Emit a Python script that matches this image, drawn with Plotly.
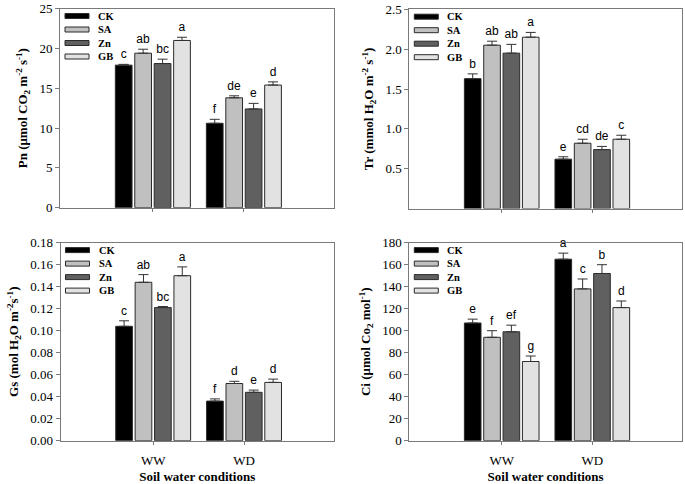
import plotly.graph_objects as go
from plotly.subplots import make_subplots

conditions = ["WW", "WD"]
treatments = ["CK", "SA", "Zn", "GB"]
colors = ["#000000", "#c0c0c0", "#606060", "#e2e2e2"]

# Pn
pn_mean = {"CK": [17.9, 10.6], "SA": [19.4, 13.8], "Zn": [18.1, 12.4], "GB": [21.0, 15.4]}
pn_err = {"CK": [0.1, 0.5], "SA": [0.5, 0.25], "Zn": [0.55, 0.7], "GB": [0.4, 0.4]}
pn_let = {"CK": ["c", "f"], "SA": ["ab", "de"], "Zn": ["bc", "e"], "GB": ["a", "d"]}
# Tr
tr_mean = {"CK": [1.63, 0.62], "SA": [2.05, 0.82], "Zn": [1.95, 0.74], "GB": [2.15, 0.87]}
tr_err = {"CK": [0.06, 0.03], "SA": [0.05, 0.05], "Zn": [0.11, 0.04], "GB": [0.06, 0.05]}
tr_let = {"CK": ["b", "e"], "SA": ["ab", "cd"], "Zn": ["ab", "de"], "GB": ["a", "c"]}
# Gs
gs_mean = {"CK": [0.104, 0.036], "SA": [0.144, 0.052], "Zn": [0.121, 0.044], "GB": [0.150, 0.053]}
gs_err = {"CK": [0.005, 0.002], "SA": [0.007, 0.002], "Zn": [0.001, 0.002], "GB": [0.008, 0.003]}
gs_let = {"CK": ["c", "f"], "SA": ["ab", "d"], "Zn": ["bc", "e"], "GB": ["a", "d"]}
# Ci
ci_mean = {"CK": [107, 165], "SA": [94, 138], "Zn": [99, 152], "GB": [72, 121]}
ci_err = {"CK": [3.5, 5.5], "SA": [6, 9], "Zn": [6, 8], "GB": [5, 6]}
ci_let = {"CK": ["e", "a"], "SA": ["f", "c"], "Zn": ["ef", "b"], "GB": ["g", "d"]}

y_titles = [
    "Pn (μmol CO<sub>2</sub> m<sup>-2</sup> s<sup>-1</sup>)",
    "Tr (mmol H<sub>2</sub>O m<sup>-2</sup> s<sup>-1</sup>)",
    "Gs (mol H<sub>2</sub>O m<sup>-2</sup>s<sup>-1</sup>)",
    "Ci (μmol Co<sub>2</sub> mol<sup>-1</sup>)",
]
x_title = "Soil water conditions"

SERIF = "Liberation Serif"
SANS = "Liberation Sans"
AX = "#7a7a7a"

OFF = 0
W, H = 685, 484
fig = make_subplots(rows=2, cols=2)

panels = [
    (1, 1, pn_mean, pn_err, pn_let),
    (1, 2, tr_mean, tr_err, tr_let),
    (2, 1, gs_mean, gs_err, gs_let),
    (2, 2, ci_mean, ci_err, ci_let),
]

for (r, c, mean, err, let) in panels:
    for i, t in enumerate(treatments):
        fig.add_trace(go.Bar(
            x=conditions, y=mean[t], name=t, offsetgroup=t,
            marker=dict(color=colors[i], line=dict(color="#2a2a2a", width=1)),
            error_y=dict(type="data", array=err[t], arrayminus=[0, 0], symmetric=False,
                         color="#333333", thickness=1, width=5),
            showlegend=False, hoverinfo="skip",
        ), row=r, col=c)
        fig.add_trace(go.Bar(
            x=conditions, y=[m + e for m, e in zip(mean[t], err[t])], offsetgroup=t,
            marker=dict(color="rgba(0,0,0,0)", line=dict(width=0)),
            text=let[t], textposition="outside", constraintext="none", cliponaxis=False,
            textfont=dict(family=SANS, size=12, color="#000000"),
            showlegend=False, hoverinfo="skip",
        ), row=r, col=c)

def px_x(a, b):
    return [(a - OFF) / W, (b - OFF) / W]

def px_y(top, bottom):
    return [1 - (bottom - OFF) / H, 1 - (top - OFF) / H]

doms = {
    1: (px_x(60, 334), px_y(8.6, 207.7)),
    2: (px_x(409.3, 682), px_y(9.3, 208.6)),
    3: (px_x(60.5, 334), px_y(242.7, 440.7)),
    4: (px_x(409.3, 682), px_y(242.7, 440.7)),
}
yranges = {1: [0, 25], 2: [0, 2.5], 3: [0, 0.18], 4: [0, 180]}
ytick = {
    1: dict(tickvals=[0, 5, 10, 15, 20, 25]),
    2: dict(tickvals=[0.5, 1.0, 1.5, 2.0, 2.5], ticktext=["0.5", "1.0", "1.5", "2.0", "2.5"]),
    3: dict(tickvals=[0, 0.02, 0.04, 0.06, 0.08, 0.10, 0.12, 0.14, 0.16, 0.18], tickformat=".2f"),
    4: dict(tickvals=list(range(0, 181, 20))),
}

for k in range(1, 5):
    xs = "xaxis" if k == 1 else f"xaxis{k}"
    ys = "yaxis" if k == 1 else f"yaxis{k}"
    bottom = k >= 3
    fig.layout[xs].update(
        domain=doms[k][0], range=[-1.02, 1.99], automargin=False,
        showline=True, linecolor=AX, linewidth=1,
        mirror=True, ticks="outside", ticklen=3, tickcolor=AX, showgrid=False, zeroline=False,
        showticklabels=bottom, ticklabelstandoff=5, ticklabeloverflow="allow",
        tickfont=dict(family=SERIF, size=13, color="#000"),
        title=dict(text=("<b>" + x_title + "</b>") if bottom else "",
                   font=dict(family=SERIF, size=13, color="#000"), standoff=4),
    )
    fig.layout[ys].update(
        domain=doms[k][1], range=yranges[k], automargin=False,
        showline=True, linecolor=AX, linewidth=1,
        mirror=True, ticks="outside", ticklen=4, tickcolor=AX, showgrid=False, zeroline=False,
        ticklabeloverflow="allow",
        tickfont=dict(family=SERIF, size=13, color="#000"),
        title=dict(text="<b>" + y_titles[k - 1] + "</b>",
                   font=dict(family=SERIF, size=13, color="#000"), standoff=8),
        **ytick[k],
    )

# custom legends (rectangular swatches)
shapes = []
annos = []
for k in range(1, 5):
    xd = "x domain" if k == 1 else f"x{k} domain"
    yd = "y domain" if k == 1 else f"y{k} domain"
    (xa, xb) = doms[k][0]
    (ya, yb) = doms[k][1]
    pw = (xb - xa) * W
    ph = (yb - ya) * H
    for i, t in enumerate(treatments):
        off = 7.4 + 13.5 * i
        yc = 1 - off / ph
        shapes.append(dict(type="rect", xref=xd, yref=yd,
                           x0=5 / pw, x1=29 / pw, y0=yc - 2.5 / ph, y1=yc + 2.5 / ph,
                           fillcolor=colors[i], line=dict(color="#2a2a2a", width=1)))
        annos.append(dict(xref=xd, yref=yd, x=36 / pw, y=yc, text="<b>" + t + "</b>",
                          showarrow=False, xanchor="left", yanchor="middle",
                          font=dict(family=SERIF, size=10.5, color="#000")))

fig.update_layout(
    width=W, height=H, margin=dict(l=0, r=0, t=0, b=0),
    paper_bgcolor="white", plot_bgcolor="white",
    barmode="group", bargap=0.146, bargroupgap=0.14,
    shapes=shapes, annotations=annos, showlegend=False,
)

fig.write_html("out.html", config={"displayModeBar": False},
               post_script="document.body.style.margin='0';")
